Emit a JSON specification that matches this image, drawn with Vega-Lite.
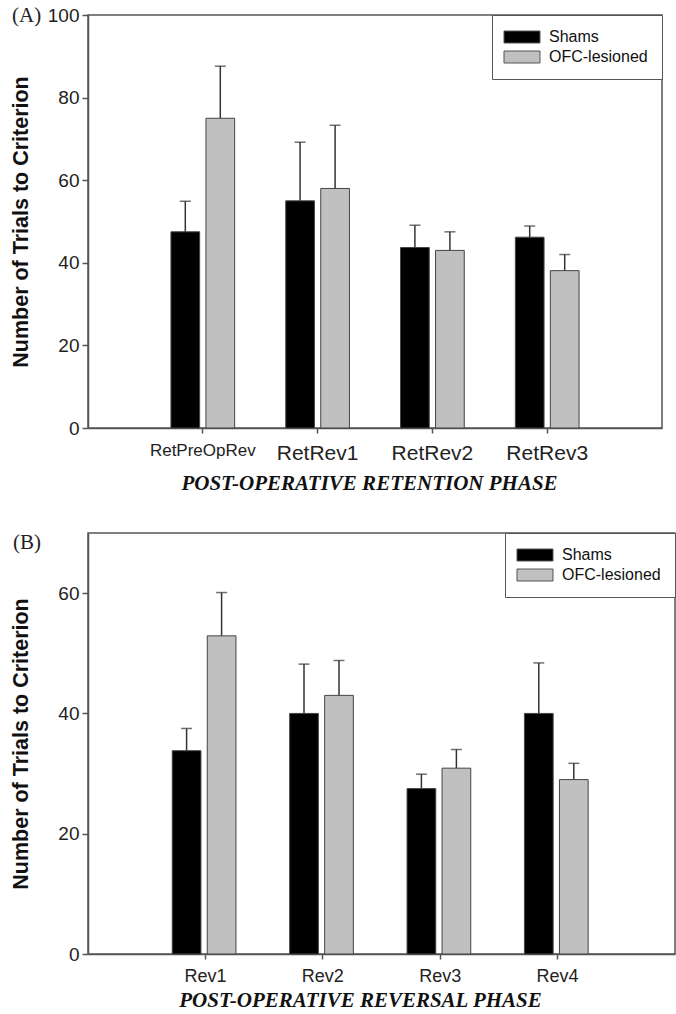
{
  "$schema": "https://vega.github.io/schema/vega-lite/v6.json",
  "padding": {"left": 9, "top": 4, "right": 0, "bottom": 0},
  "background": "white",
  "spacing": 36,
  "resolve": {"scale": {"color": "independent"}, "legend": {"color": "independent"}},
  "config": {
    "view": {"stroke": "#555555", "strokeWidth": 1.5},
    "axis": {
      "grid": false,
      "domainColor": "#555555",
      "domainWidth": 1.5,
      "tickColor": "#555555",
      "tickWidth": 1.5,
      "labelFont": "Liberation Sans",
      "labelColor": "#222222",
      "titleFont": "Liberation Sans",
      "titleColor": "#111111"
    },
    "legend": {
      "labelFont": "Liberation Sans",
      "labelFontSize": 16,
      "labelColor": "#111111"
    },
    "title": {"font": "Liberation Serif", "fontSize": 21, "fontWeight": "normal", "color": "#222222"}
  },
  "datasets": {
    "A": [
      {"phase": "RetPreOpRev", "group": "Shams", "mean": 47.5, "upper": 54.9},
      {"phase": "RetPreOpRev", "group": "OFC-lesioned", "mean": 75.0, "upper": 87.6},
      {"phase": "RetRev1", "group": "Shams", "mean": 55.0, "upper": 69.2},
      {"phase": "RetRev1", "group": "OFC-lesioned", "mean": 58.0, "upper": 73.3},
      {"phase": "RetRev2", "group": "Shams", "mean": 43.7, "upper": 49.1},
      {"phase": "RetRev2", "group": "OFC-lesioned", "mean": 43.0, "upper": 47.5},
      {"phase": "RetRev3", "group": "Shams", "mean": 46.2, "upper": 48.9},
      {"phase": "RetRev3", "group": "OFC-lesioned", "mean": 38.1, "upper": 42.0}
    ],
    "B": [
      {"phase": "Rev1", "group": "Shams", "mean": 33.8, "upper": 37.5},
      {"phase": "Rev1", "group": "OFC-lesioned", "mean": 52.9, "upper": 60.1},
      {"phase": "Rev2", "group": "Shams", "mean": 40.0, "upper": 48.2},
      {"phase": "Rev2", "group": "OFC-lesioned", "mean": 43.0, "upper": 48.8},
      {"phase": "Rev3", "group": "Shams", "mean": 27.5, "upper": 29.9},
      {"phase": "Rev3", "group": "OFC-lesioned", "mean": 30.9, "upper": 34.0},
      {"phase": "Rev4", "group": "Shams", "mean": 40.0, "upper": 48.4},
      {"phase": "Rev4", "group": "OFC-lesioned", "mean": 29.0, "upper": 31.7}
    ]
  },
  "vconcat": [
    {
      "data": {"name": "A"},
      "width": 574,
      "height": 413,
      "title": {"text": "(A)", "anchor": "start", "frame": "bounds", "dy": 24, "dx": 2},
      "encoding": {
        "x": {
          "field": "phase", "type": "nominal", "sort": null,
          "scale": {"paddingInner": 0, "paddingOuter": 0.5},
          "axis": {
            "labelAngle": 0, "tickSize": 5, "labelPadding": 9,
            "labelFontSize": {"condition": {"test": "datum.value == 'RetPreOpRev'", "value": 17}, "value": 21},
            "title": "POST-OPERATIVE RETENTION PHASE",
            "titleFont": "Liberation Serif", "titleFontStyle": "italic", "titleFontWeight": "bold",
            "titleFontSize": 21, "titlePadding": 9, "titleX": 281
          }
        },
        "xOffset": {
          "field": "group", "type": "nominal", "sort": ["Shams", "OFC-lesioned"],
          "scale": {"paddingInner": 0.18, "paddingOuter": 0.73}
        },
        "y": {
          "field": "mean", "type": "quantitative",
          "scale": {"domain": [0, 100], "nice": false},
          "axis": {
            "values": [0, 20, 40, 60, 80, 100], "tickSize": 6, "labelPadding": 3,
            "labelFontSize": 19, "title": "Number of Trials to Criterion",
            "titleFontSize": 21.5, "titleFontWeight": "bold", "titlePadding": 15, "minExtent": 41
          }
        }
      },
      "layer": [
        {
          "mark": {"type": "rule", "color": "#333333", "strokeWidth": 1.5},
          "encoding": {"y2": {"field": "upper"}}
        },
        {
          "mark": {"type": "tick", "color": "#333333", "thickness": 1.5, "size": 11, "orient": "horizontal"},
          "encoding": {"y": {"field": "upper", "type": "quantitative"}}
        },
        {
          "mark": {"type": "bar", "stroke": "#444444", "strokeWidth": 1},
          "encoding": {
            "color": {
              "field": "group", "type": "nominal",
              "scale": {"domain": ["Shams", "OFC-lesioned"], "range": ["#000000", "#c0c0c0"]},
              "legend": {
                "title": null, "orient": "top-right", "offset": 0,
                "strokeColor": "#555555", "fillColor": "white", "padding": 14,
                "symbolType": "M-1.667,-1H4.333V1H-1.667Z", "symbolSize": 144,
                "symbolStrokeColor": "#555555", "symbolStrokeWidth": 1,
                "labelOffset": 27, "rowPadding": 4
              }
            }
          }
        }
      ]
    },
    {
      "data": {"name": "B"},
      "width": 587,
      "height": 421,
      "title": {"text": "(B)", "anchor": "start", "frame": "bounds", "dy": 24, "dx": 3},
      "encoding": {
        "x": {
          "field": "phase", "type": "nominal", "sort": null,
          "scale": {"paddingInner": 0, "paddingOuter": 0.5},
          "axis": {
            "labelAngle": 0, "tickSize": 5, "labelPadding": 8, "labelFontSize": 18,
            "title": "POST-OPERATIVE REVERSAL PHASE",
            "titleFont": "Liberation Serif", "titleFontStyle": "italic", "titleFontWeight": "bold",
            "titleFontSize": 21, "titlePadding": 4, "titleX": 272
          }
        },
        "xOffset": {
          "field": "group", "type": "nominal", "sort": ["Shams", "OFC-lesioned"],
          "scale": {"paddingInner": 0.19, "paddingOuter": 0.73}
        },
        "y": {
          "field": "mean", "type": "quantitative",
          "scale": {"domain": [0, 70], "nice": false},
          "axis": {
            "values": [0, 20, 40, 60], "tickSize": 6, "labelPadding": 3,
            "labelFontSize": 19, "title": "Number of Trials to Criterion",
            "titleFontSize": 21.5, "titleFontWeight": "bold", "titlePadding": 15, "minExtent": 41
          }
        }
      },
      "layer": [
        {
          "mark": {"type": "rule", "color": "#333333", "strokeWidth": 1.5},
          "encoding": {"y2": {"field": "upper"}}
        },
        {
          "mark": {"type": "tick", "color": "#333333", "thickness": 1.5, "size": 11, "orient": "horizontal"},
          "encoding": {"y": {"field": "upper", "type": "quantitative"}}
        },
        {
          "mark": {"type": "bar", "stroke": "#444444", "strokeWidth": 1},
          "encoding": {
            "color": {
              "field": "group", "type": "nominal",
              "scale": {"domain": ["Shams", "OFC-lesioned"], "range": ["#000000", "#c0c0c0"]},
              "legend": {
                "title": null, "orient": "top-right", "offset": 0,
                "strokeColor": "#555555", "fillColor": "white", "padding": 14,
                "symbolType": "M-1.667,-1H4.333V1H-1.667Z", "symbolSize": 144,
                "symbolStrokeColor": "#555555", "symbolStrokeWidth": 1,
                "labelOffset": 27, "rowPadding": 4
              }
            }
          }
        }
      ]
    }
  ]
}
